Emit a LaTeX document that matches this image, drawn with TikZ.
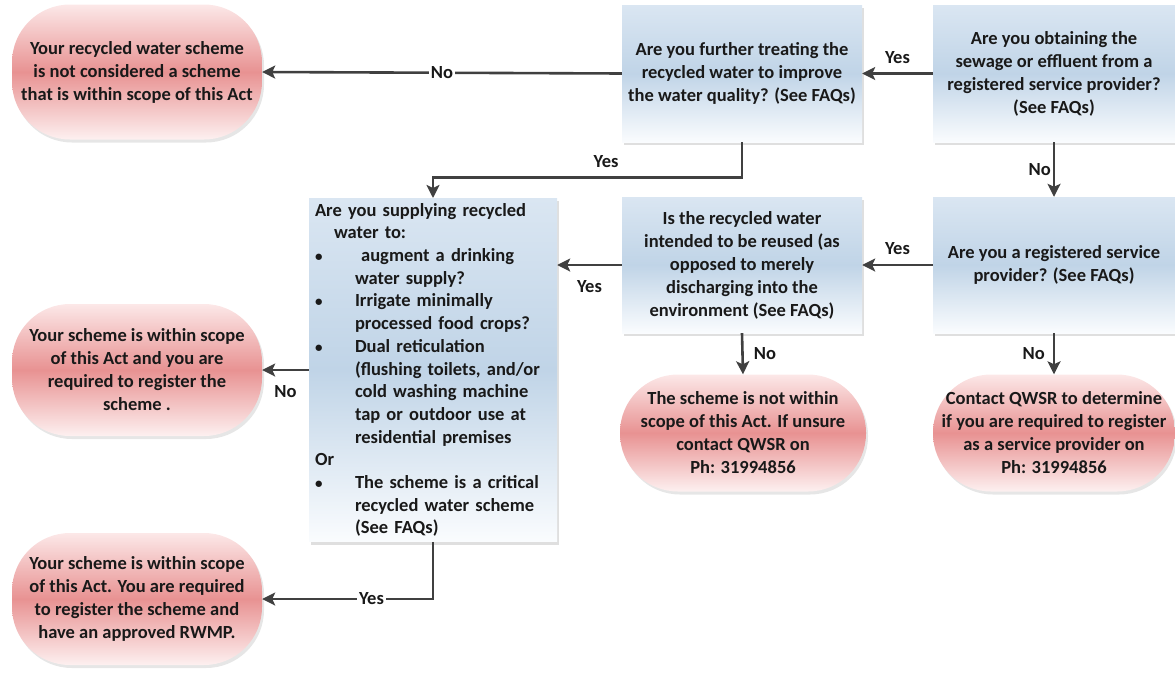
\documentclass[tikz,border=0pt]{standalone}
\usepackage{fontspec}
\setmainfont{Carlito}
\usetikzlibrary{arrows.meta,shadows}
\definecolor{ink}{RGB}{25,25,25}
\definecolor{wire}{RGB}{64,64,64}
\definecolor{qtop}{RGB}{218,230,242}
\definecolor{qmid}{RGB}{192,212,231}
\definecolor{qbot}{RGB}{250,252,254}
\definecolor{ptop}{RGB}{252,232,232}
\definecolor{pmid}{RGB}{232,146,146}
\definecolor{pbot}{RGB}{253,240,240}
\newcommand{\qbul}{\makebox[40pt][l]{\fontsize{15}{15}\selectfont\textbullet}}
\tikzset{
  every picture/.style={font={\fontsize{18.5}{23}\selectfont\bfseries}},
  question/.style={rectangle,top color=qtop,bottom color=qbot,middle color=qmid,
    drop shadow={opacity=0.25,shadow xshift=2pt,shadow yshift=-3pt},
    align=center,text=ink,inner sep=5pt},
  outcome/.style={rectangle,rounded corners=58pt,top color=ptop,bottom color=pbot,middle color=pmid,
    drop shadow={opacity=0.2,shadow xshift=2pt,shadow yshift=-3pt},
    align=center,text=ink,inner sep=4pt},
  flow/.style={draw=wire,line width=2.6pt,-{Stealth[length=13pt,width=13pt,inset=3pt]}},
  lbl/.style={text=ink,inner sep=2pt},
}

\begin{document}
\begin{tikzpicture}[x=1pt,y=1pt]
  \useasboundingbox (0,0) rectangle (1175,-672);
  % questions
  \node[question,minimum width=242,minimum height=137] (obtain) at (1054,-73.5)
    {Are you obtaining the\\sewage or effluent from a\\registered service provider?\\(See FAQs)};
  \node[question,minimum width=240,minimum height=137] (treat) at (742,-73.5)
    {Are you further treating the\\recycled water to improve\\the water quality? (See FAQs)};
  \node[question,minimum width=242,minimum height=136] (provider) at (1054,-265)
    {Are you a registered service\\provider? (See FAQs)};
  \node[question,minimum width=240,minimum height=136] (reuse) at (742,-265)
    {Is the recycled water\\intended to be reused (as\\opposed to merely\\discharging into the\\environment (See FAQs)};
  \node[question,align=left,minimum width=248,minimum height=340,text width=236,
    font={\fontsize{18.5}{22.7}\selectfont\bfseries}] (supply) at (433,-370)
    {Are you supplying recycled\\
     \hspace*{19pt}water to:\\
     \qbul\ augment a drinking\\
     \hspace*{40pt}water supply?\\
     \qbul Irrigate minimally\\
     \hspace*{40pt}processed food crops?\\
     \qbul Dual reticulation\\
     \hspace*{40pt}(flushing toilets, and/or\\
     \hspace*{40pt}cold washing machine\\
     \hspace*{40pt}tap or outdoor use at\\
     \hspace*{40pt}residential premises\\
     Or\\
     \qbul The scheme is a critical\\
     \hspace*{40pt}recycled water scheme\\
     \hspace*{40pt}(See FAQs)};
  % outcomes
  \node[outcome,minimum width=250,minimum height=135] (outscope) at (137,-72)
    {Your recycled water scheme\\is not considered a scheme\\that is within scope of this Act};
  \node[outcome,minimum width=250,minimum height=132] (register) at (137,-370)
    {Your scheme is within scope\\of this Act and you are\\required to register the\\scheme .};
  \node[outcome,minimum width=250,minimum height=132] (rwmp) at (137,-599)
    {Your scheme is within scope\\of this Act. You are required\\to register the scheme and\\have an approved RWMP.};
  \node[outcome,minimum width=246,minimum height=117] (unsure) at (743,-433)
    {The scheme is not within\\scope of this Act. If unsure\\contact QWSR on\\Ph: 31994856};
  \node[outcome,minimum width=242,minimum height=117] (contact) at (1054,-433)
    {Contact QWSR to determine\\if you are required to register\\as a service provider on\\Ph: 31994856};
  % connectors
  \draw[flow] (obtain.west) -- node[lbl,above=7pt] {Yes} (treat.east);
  \draw[flow] (treat.west) -- node[lbl,fill=white] {No} (outscope.east);
  \draw[flow] (treat.south) -- ++(0,-35) -| node[lbl,above=6pt,pos=0.22] {Yes} (supply.north);
  \draw[flow] (obtain.south) -- node[lbl,left] {No} (provider.north);
  \draw[flow] (provider.west) -- node[lbl,above=7pt] {Yes} (reuse.east);
  \draw[flow] (reuse.west) -- node[lbl,below=12pt] {Yes} (reuse.west -| supply.east);
  \draw[flow] (reuse.south) -- node[lbl,right=8pt] {No} (unsure.north);
  \draw[flow] (provider.south) -- node[lbl,left=6pt] {No} (contact.north);
  \draw[flow] (supply.west) -- node[lbl,below=12pt] {No} (register.east);
  \draw[flow] (supply.south) |- node[lbl,fill=white,pos=0.68] {Yes} (rwmp.east);
\end{tikzpicture}
\end{document}
